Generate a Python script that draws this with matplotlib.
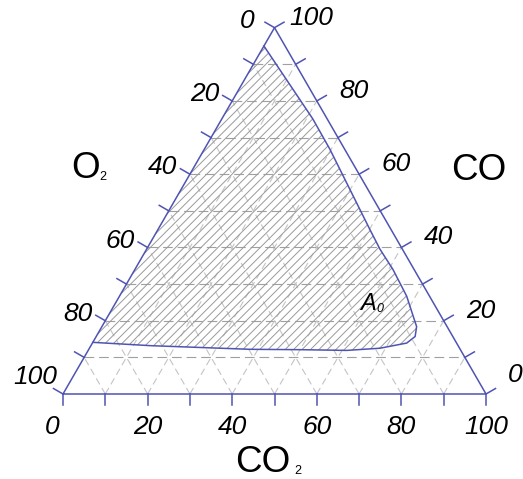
import numpy as np
import matplotlib.pyplot as plt
from matplotlib.patches import Polygon

plt.rcParams['font.family'] = ['Liberation Sans', 'DejaVu Sans']
plt.rcParams['lines.scale_dashes'] = False

ticks = list(range(0, 101, 10))
tick_labels = [0, 20, 40, 60, 80, 100]

# boundary of region A0 (percent CO2, percent CO)
a0_co2 = [0, 21.5, 29.7, 50.1, 55.2, 61.0, 67.9, 72.2, 74.4, 75.4, 74.3, 68.7, 61.1, 50.0, 38.1, 14.0, 0]
a0_co = [95, 75.1, 66.8, 44.9, 39.5, 34.0, 26.7, 21.2, 18.4, 15.7, 13.9, 12.5, 11.9, 12.1, 12.2, 13.2, 14.1]

BLUE = '#4f54b3'
H = np.sqrt(3) / 2


def xy(co2, co):
    co2 = np.asarray(co2, float)
    co = np.asarray(co, float)
    return co2 + co / 2, co * H


fig = plt.figure(figsize=(5.23, 4.79), dpi=100)
ax = fig.add_axes([0, 0, 1, 1])
ax.set_xlim(-63 / 4.23, 460 / 4.23)
ax.set_ylim(-85 / 4.23, 394 / 4.23)
ax.set_aspect('equal')
ax.axis('off')

# grid
for v in ticks[1:-1]:
    # constant CO (horizontal)
    x, y = xy([0, 100 - v], [v, v])
    ax.plot(x, y, color='#a0a0a0', lw=0.8, dashes=(7, 3.5), zorder=1)
    # constant CO2
    x, y = xy([v, v], [0, 100 - v])
    ax.plot(x, y, color='#c4c4c4', lw=0.8, dashes=(5, 3), zorder=1)
    # constant O2
    x, y = xy([100 - v, 0], [0, 100 - v])
    ax.plot(x, y, color='#c4c4c4', lw=0.8, dashes=(5, 3), zorder=1)

# hatched region A0
px, py = xy(a0_co2, a0_co)
region = Polygon(np.column_stack([px, py]), closed=True, facecolor='none', edgecolor='none')
ax.add_patch(region)
for c in np.arange(-100, 100, 2.0):
    ln, = ax.plot([-10, 110], [-10 + c, 110 + c], color='#9a9a9a', lw=0.7, zorder=2)
    ln.set_clip_path(region)
ax.plot(px, py, color=BLUE, lw=1.1, zorder=4, solid_joinstyle='round')

# triangle
tx, ty = xy([0, 100, 0, 0], [0, 0, 100, 0])
ax.plot(tx, ty, color=BLUE, lw=1.1, zorder=5, solid_joinstyle='miter')

L = 2.6
for v in ticks:
    # bottom (CO2)
    x, y = xy(v, 0)
    ax.plot([x, x], [y, y - L], color=BLUE, lw=1.1, zorder=5)
    # left (O2)
    x, y = xy(0, 100 - v)
    ax.plot([x, x - L * H], [y, y + L / 2], color=BLUE, lw=1.1, zorder=5)
    # right (CO)
    x, y = xy(100 - v, v)
    ax.plot([x, x + L * H], [y, y + L / 2], color=BLUE, lw=1.1, zorder=5)

fs = 19
for v in tick_labels:
    x, y = xy(v, 0)
    dx = -2.6 if v == 0 else 0
    ax.text(x + dx, y - 7.8, str(v), fontsize=fs, style='italic', ha='center', va='center')
    x, y = xy(0, 100 - v)
    dx, dy = (-6.4, 1.6) if v != 100 else (-6.6, 4.0)
    ax.text(x + dx, y + dy, str(v), fontsize=fs, style='italic', ha='center', va='center')
    x, y = xy(100 - v, v)
    dx, dy = (8.8, 2.4) if v != 0 else (6.9, 4.5)
    ax.text(x + dx, y + dy, str(v), fontsize=fs, style='italic', ha='center', va='center')


def px2d(xp, yp):
    return (xp - 63) / 4.23, (394 - yp) / 4.23


fl = 26.5
ax.text(*px2d(86, 168), 'O', fontsize=fl, ha='center', va='center')
ax.text(*px2d(103, 177), '2', fontsize=9, ha='center', va='center')
ax.text(*px2d(479, 170), 'CO', fontsize=fl, ha='center', va='center')
ax.text(*px2d(263, 462), 'CO', fontsize=fl, ha='center', va='center')
ax.text(*px2d(298, 471), '2', fontsize=9, ha='center', va='center')
ax.text(*px2d(368, 303), 'A', fontsize=17, style='italic', ha='center', va='center', zorder=6)
ax.text(*px2d(380, 309), '0', fontsize=9, style='italic', ha='center', va='center', zorder=6)

fig.savefig('out.png', dpi=100)
